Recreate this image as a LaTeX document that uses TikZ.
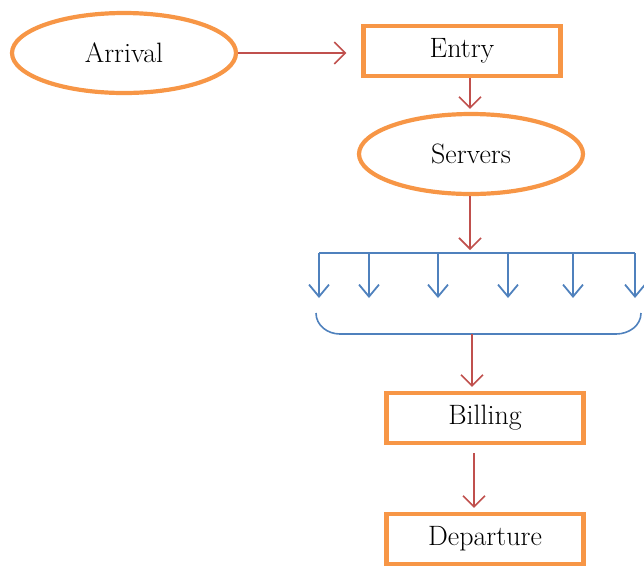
\documentclass[tikz,border=0pt]{standalone}
\usepackage{fontspec}
\usetikzlibrary{positioning, arrows.meta, shapes.geometric}
\definecolor{boxorange}{HTML}{F79646}
\definecolor{arrowred}{HTML}{C0504D}
\definecolor{splitblue}{HTML}{4F81BD}

\begin{document}
\begin{tikzpicture}[
		x=1pt, y=-1pt,
		every node/.style={font=\fontsize{28}{32}\selectfont},
		ovalbox/.style={draw=boxorange, ellipse, line width=4.2pt, minimum width=224pt, minimum height=80pt, inner sep=0pt},
		rectbox/.style={draw=boxorange, rectangle, line width=4.2pt, minimum width=197pt, minimum height=50pt, inner sep=0pt},
		arrow/.style={-{Straight Barb[length=11pt, width=22pt]}, line width=1.6pt, color=arrowred},
		splitarrow/.style={-{Straight Barb[length=12pt, width=20pt]}, line width=1.8pt, color=splitblue}
		]
		\useasboundingbox (0,0) rectangle (644,566);
		
		% TOP ROW
		\node[ovalbox] (arrival) at (124,53) {Arrival};
		\node[rectbox] (entry) at (462,51) {Entry};
		\node[ovalbox] (servers) at (471,154) {Servers};
		
		% SPLIT BAR
		\coordinate (bar) at (470,253);
		\coordinate (barleft) at (319,253);
		\coordinate (barright) at (635,253);
		\draw[line width=1.8pt, color=splitblue] (barleft) -- (barright);
		\foreach \xpos in {319, 369, 438, 508, 573, 635}
			\draw[splitarrow] (\xpos,253) -- (\xpos,298);
		
		% BRACE
		\coordinate (join) at (472,334);
		\draw[line width=1.6pt, color=splitblue] (316,313) to[out=-90, in=180] (340,334) -- (616,334) to[out=0, in=-90] (641,313);
		
		% BOTTOM ROW
		\node[rectbox] (billing) at (485,418) {Billing};
		\node[rectbox] (departure) at (485,539) {Departure};
		
		% CONNECTIONS
		\draw[arrow] (arrival.east) -- ([xshift=-15pt]arrival.east -| entry.west);
		\draw[arrow] ([xshift=8pt]entry.south) -- ([xshift=8pt, yshift=3pt]entry.south |- servers.north);
		\draw[arrow] (servers.south -| bar) -- ([yshift=3pt]bar);
		\draw[arrow] (join) -- ([yshift=4pt]join |- billing.north);
		\draw[arrow] ([xshift=-11pt, yshift=-8pt]billing.south) -- ([xshift=-11pt, yshift=4pt]departure.north);
		
	\end{tikzpicture}
\end{document}
